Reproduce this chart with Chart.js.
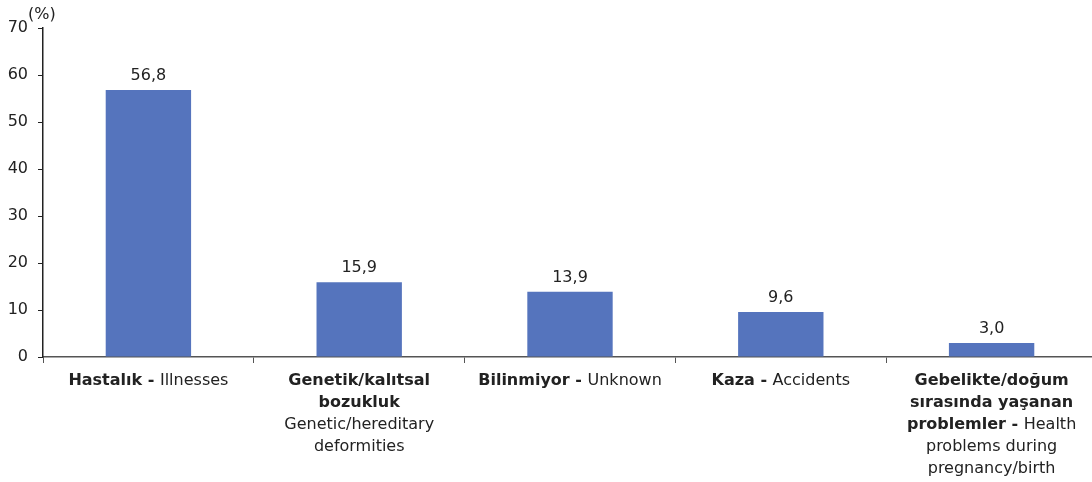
<!DOCTYPE html>
<html>
<head>
<meta charset="utf-8">
<script src="https://cdn.jsdelivr.net/npm/chart.js@4"></script>
<style>
  html, body { margin: 0; padding: 0; background: #fff; overflow: hidden; }
  #wrap { width: 1097px; height: 482px; }
</style>
</head>
<body>
<div id="wrap"><canvas id="chart"></canvas></div>
<script>
// categories (short names) and values
const categories = ['Hastalık', 'Genetik/kalıtsal bozukluk', 'Bilinmiyor', 'Kaza', 'Gebelikte/doğum sırasında yaşanan problemler'];
const values = [56.8, 15.9, 13.9, 9.6, 3.0];
const yTicks = [0, 10, 20, 30, 40, 50, 60, 70];

// wrapped label lines, each line is a list of [text, bold]
const labelLines = [
    [[['Hastalık - ', true], ['Illnesses', false]]],
    [[['Genetik/kalıtsal', true]], [['bozukluk', true]], [['Genetic/hereditary', false]], [['deformities', false]]],
    [[['Bilinmiyor - ', true], ['Unknown', false]]],
    [[['Kaza - ', true], ['Accidents', false]]],
    [[['Gebelikte/doğum', true]], [['sırasında yaşanan', true]], [['problemler - ', true], ['Health', false]], [['problems during', false]], [['pregnancy/birth', false]]]
];

const FONT = '"DejaVu Sans", Verdana, sans-serif';
const TEXT = '#222222';
const FS = 16;

const extras = {
    id: 'extras',
    afterDraw(chart) {
        const ctx = chart.ctx;
        const x = chart.scales.x;
        const area = chart.chartArea;
        ctx.save();
        ctx.fillStyle = TEXT;

        // value labels
        ctx.font = FS + 'px ' + FONT;
        ctx.textAlign = 'center';
        ctx.textBaseline = 'bottom';
        chart.getDatasetMeta(0).data.forEach((bar, i) => {
            ctx.fillText(values[i].toFixed(1).replace('.', ','), bar.x, bar.y - 6);
        });

        // unit
        ctx.textAlign = 'left';
        ctx.textBaseline = 'middle';
        ctx.fillText('(%)', area.left - 15, area.top - 13);

        // category labels
        labelLines.forEach((lines, i) => {
            const cx = x.getPixelForValue(i);
            lines.forEach((segs, j) => {
                let w = 0;
                segs.forEach(s => {
                    ctx.font = (s[1] ? 'bold ' : '') + FS + 'px ' + FONT;
                    w += ctx.measureText(s[0]).width;
                });
                let px = cx - w / 2;
                const py = area.bottom + 24 + j * 22;
                segs.forEach(s => {
                    ctx.font = (s[1] ? 'bold ' : '') + FS + 'px ' + FONT;
                    ctx.fillText(s[0], px, py);
                    px += ctx.measureText(s[0]).width;
                });
            });
        });
        ctx.restore();
    }
};

new Chart(document.getElementById('chart'), {
    type: 'bar',
    data: {
        labels: categories,
        datasets: [{
            data: values,
            backgroundColor: '#5574bd',
            barPercentage: 0.81,
            categoryPercentage: 0.5
        }]
    },
    options: {
        responsive: true,
        maintainAspectRatio: false,
        animation: false,
        layout: { padding: { top: 28, right: 0, left: 0, bottom: 0 } },
        plugins: { legend: { display: false }, tooltip: { enabled: false } },
        scales: {
            x: {
                grid: { drawOnChartArea: false, tickLength: 6, color: '#555', offset: true },
                border: { color: '#555', width: 1.5 },
                ticks: { display: false },
                afterFit(s) { s.height = 125; }
            },
            y: {
                min: 0,
                max: 70,
                afterBuildTicks(s) { s.ticks = yTicks.map(v => ({ value: v })); },
                grid: { drawOnChartArea: false, tickLength: 5, color: '#222' },
                border: { color: '#222', width: 1.5 },
                ticks: { color: TEXT, font: { family: FONT, size: 16 }, padding: 10 },
                afterFit(s) { s.width = 43; }
            }
        }
    },
    plugins: [extras]
});
</script>
</body>
</html>
